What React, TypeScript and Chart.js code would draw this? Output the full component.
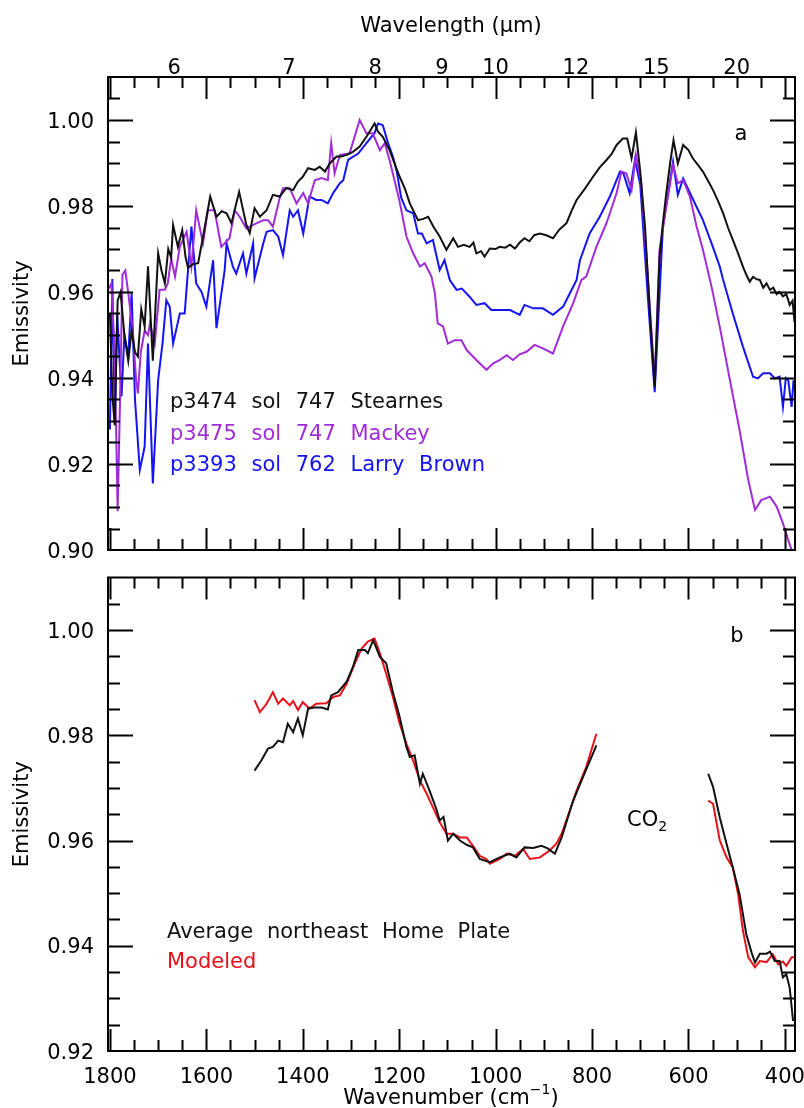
import React, { useEffect, useRef } from 'react';
import { Chart, registerables } from 'chart.js';

Chart.register(...registerables);

// ---------------- data: panel a (wavenumber cm^-1, emissivity) ----------------
const stearnesWn = [
  1800, 1795, 1790, 1784, 1778, 1770, 1762, 1755, 1748, 1742,
  1735, 1728, 1721, 1711, 1700, 1693, 1686, 1679, 1673, 1669,
  1659, 1650, 1643, 1638, 1627, 1617, 1605, 1592, 1579, 1568,
  1558, 1548, 1532, 1517, 1510, 1500, 1489, 1475, 1462, 1448,
  1434, 1420, 1410, 1400, 1389, 1375, 1365, 1354, 1344, 1330,
  1320, 1309, 1296, 1282, 1268, 1251, 1244, 1234, 1220, 1210,
  1199, 1188, 1178, 1161, 1150, 1140, 1128, 1116, 1102, 1088,
  1078, 1066, 1054, 1046, 1040, 1030, 1023, 1012, 1000, 992,
  980, 970, 960, 950, 940, 930, 920, 908, 895, 881,
  868, 853, 842, 832, 815, 798, 784, 770, 760, 749,
  736, 727, 718, 709, 700, 690, 680, 670, 660, 653,
  646, 638, 631, 622, 611, 600, 591, 580, 570, 560,
  549, 538, 528, 518, 508, 497, 487, 480, 473, 466,
  459, 452, 445, 438, 431, 424, 417, 411, 404, 397,
  390, 384, 380,
];
const stearnesE = [
  0.955, 0.936, 0.929, 0.958, 0.960, 0.950, 0.944, 0.951, 0.946, 0.945,
  0.956, 0.952, 0.966, 0.944, 0.969, 0.965, 0.962, 0.970, 0.968, 0.9756,
  0.9705, 0.9744, 0.968, 0.9656, 0.9665, 0.9667, 0.974, 0.9822, 0.9775, 0.9788,
  0.9783, 0.976, 0.9833, 0.9756, 0.9737, 0.9795, 0.9775, 0.979, 0.9826, 0.9822,
  0.9842, 0.9837, 0.9857, 0.9868, 0.9888, 0.9884, 0.9891, 0.988, 0.9899, 0.9915,
  0.9915, 0.9919, 0.9926, 0.9938, 0.9961, 0.9992, 0.9973, 0.9961, 0.993, 0.990,
  0.9868, 0.984, 0.9806, 0.9767, 0.977, 0.9775, 0.975, 0.9729, 0.9698, 0.9725,
  0.9705, 0.971, 0.9705, 0.9715, 0.969, 0.9695, 0.9682, 0.9701, 0.970, 0.9705,
  0.9703, 0.971, 0.9701, 0.9715, 0.9725, 0.9718, 0.9732, 0.9736, 0.9732, 0.9725,
  0.9745, 0.976, 0.979, 0.9814, 0.984, 0.9868, 0.989, 0.9907, 0.992, 0.9942,
  0.9957, 0.9957, 0.9911, 0.9971, 0.988, 0.975, 0.955, 0.938, 0.968, 0.976,
  0.983, 0.990, 0.9953, 0.9899, 0.9942, 0.993, 0.9911, 0.9895, 0.988, 0.986,
  0.9837, 0.981, 0.9783, 0.975, 0.9721, 0.969, 0.9659, 0.964, 0.9624, 0.9635,
  0.963, 0.9628, 0.961, 0.962, 0.9605, 0.961, 0.9595, 0.960, 0.959, 0.9595,
  0.957, 0.958, 0.953,
];

const mackeyWn = [
  1804, 1797, 1790, 1784, 1779, 1774, 1768, 1760, 1752, 1746,
  1742, 1736, 1728, 1721, 1717, 1707, 1697, 1686, 1680, 1673,
  1665, 1655, 1641, 1631, 1621, 1607, 1597, 1583, 1569, 1552,
  1541, 1531, 1517, 1503, 1482, 1472, 1462, 1448, 1441, 1427,
  1413, 1399, 1389, 1375, 1361, 1348, 1341, 1334, 1323, 1303,
  1282, 1268, 1255, 1240, 1230, 1220, 1199, 1185, 1171, 1157,
  1147, 1133, 1126, 1120, 1109, 1099, 1085, 1071, 1060, 1040,
  1019, 1005, 991, 977, 964, 950, 936, 919, 902, 881,
  860, 839, 822, 812, 791, 770, 749, 739, 729, 718,
  709, 698, 685, 670, 660, 646, 632, 622, 611, 597,
  583, 570, 552, 535, 514, 494, 476, 462, 449, 431,
  417, 404, 393, 386,
];
const mackeyE = [
  0.9605, 0.962, 0.945, 0.909, 0.935, 0.964, 0.965, 0.958, 0.950, 0.940,
  0.9364, 0.946, 0.951, 0.950, 0.9527, 0.948, 0.9605, 0.9605, 0.962, 0.9678,
  0.9636, 0.9705, 0.974, 0.9659, 0.979, 0.9713, 0.979, 0.979, 0.9705, 0.9725,
  0.979, 0.9775, 0.9748, 0.9756, 0.9767, 0.9767, 0.9752, 0.9818, 0.9841, 0.9841,
  0.9806, 0.983, 0.9806, 0.986, 0.9865, 0.986, 0.9946, 0.9876, 0.9919, 0.9922,
  1.000, 0.9969, 0.9969, 0.993, 0.9946, 0.9907, 0.981, 0.9729, 0.969, 0.9659,
  0.9667, 0.9636, 0.9597, 0.9527, 0.952, 0.948, 0.9488, 0.9488, 0.9465, 0.9442,
  0.9419, 0.9434, 0.9442, 0.9453, 0.9442, 0.9455, 0.9461, 0.9477, 0.9469, 0.9457,
  0.952, 0.9574, 0.9628, 0.9636, 0.9705, 0.976, 0.983, 0.988, 0.9876, 0.9837,
  0.9919, 0.9853, 0.965, 0.9395, 0.9698, 0.9798, 0.9895, 0.9853, 0.986, 0.9822,
  0.9752, 0.9698, 0.9612, 0.9519, 0.9395, 0.9279, 0.9163, 0.9093, 0.9116, 0.9124,
  0.9101, 0.9062, 0.9023, 0.900,
];

const larryWn = [
  1800, 1795, 1790, 1785, 1776, 1770, 1762, 1755, 1748, 1738,
  1728, 1721, 1711, 1700, 1691, 1683, 1676, 1669, 1655, 1645,
  1638, 1631, 1621, 1610, 1600, 1586, 1579, 1562, 1558, 1545,
  1538, 1524, 1517, 1503, 1500, 1482, 1475, 1462, 1451, 1441,
  1427, 1420, 1410, 1399, 1386, 1372, 1361, 1348, 1337, 1323,
  1316, 1306, 1285, 1268, 1251, 1244, 1234, 1223, 1213, 1205,
  1196, 1185, 1171, 1161, 1153, 1143, 1130, 1116, 1106, 1095,
  1081, 1070, 1054, 1040, 1023, 1009, 991, 970, 950, 940,
  922, 902, 881, 860, 846, 832, 825, 805, 784, 763,
  742, 735, 722, 711, 700, 685, 670, 653, 632, 622,
  611, 590, 570, 552, 535, 528, 508, 487, 466, 456,
  445, 431, 421, 411, 404, 398, 393, 386, 382,
];
const larryE = [
  0.928, 0.963, 0.930, 0.955, 0.9357, 0.950, 0.945, 0.9597, 0.935, 0.9186,
  0.924, 0.948, 0.9155, 0.9395, 0.948, 0.9581, 0.9566, 0.948, 0.955, 0.955,
  0.9651, 0.9752, 0.962, 0.960, 0.9566, 0.9674, 0.9516, 0.9651, 0.9713, 0.9659,
  0.9643, 0.969, 0.9643, 0.9713, 0.9632, 0.9713, 0.974, 0.9744, 0.9729, 0.9686,
  0.979, 0.9775, 0.979, 0.9736, 0.9822, 0.9814, 0.9814, 0.9806, 0.983, 0.9853,
  0.986, 0.9907, 0.9922, 0.9946, 0.997, 0.9992, 0.9988, 0.9946, 0.9915, 0.988,
  0.982, 0.979, 0.9783, 0.9736, 0.9736, 0.9713, 0.9721, 0.9651, 0.9674, 0.9628,
  0.9605, 0.9608, 0.9589, 0.957, 0.9574, 0.9558, 0.9558, 0.9558, 0.9547, 0.957,
  0.9562, 0.9562, 0.9547, 0.9566, 0.9597, 0.9628, 0.9674, 0.9736, 0.9775, 0.9822,
  0.988, 0.9876, 0.983, 0.9907, 0.985, 0.960, 0.9367, 0.9752, 0.9903, 0.9826,
  0.9864, 0.9814, 0.9767, 0.9713, 0.9659, 0.9628, 0.955, 0.9473, 0.9403, 0.9399,
  0.9411, 0.9411, 0.9399, 0.9403, 0.9333, 0.940, 0.9395, 0.9333, 0.9395,
];

// ---------------- data: panel b ----------------
const avgWn1 = [
  1500, 1486, 1472, 1462, 1451, 1441, 1431, 1420, 1410, 1400,
  1389, 1375, 1361, 1348, 1341, 1327, 1309, 1296, 1285, 1271,
  1265, 1254, 1240, 1227, 1213, 1199, 1185, 1178, 1168, 1157,
  1151, 1137, 1123, 1116, 1108, 1099, 1088, 1074, 1060, 1047,
  1033, 1012, 991, 971, 957, 940, 922, 905, 892, 877,
  863, 839, 819, 801, 791,
];
const avgE1 = [
  0.9733, 0.9752, 0.9775, 0.9778, 0.979, 0.9787, 0.9822, 0.9806, 0.9832, 0.980,
  0.9851, 0.9853, 0.9853, 0.9849, 0.9876, 0.9882, 0.9902, 0.993, 0.9962, 0.9962,
  0.9956, 0.9981, 0.9949, 0.9937, 0.9882, 0.9835, 0.9778, 0.9759, 0.9762, 0.9708,
  0.9727, 0.9695, 0.966, 0.9638, 0.9645, 0.960, 0.9613, 0.960, 0.9592, 0.9587,
  0.9565, 0.9559, 0.9568, 0.9575, 0.9568, 0.9587, 0.9586, 0.959, 0.9585, 0.9575,
  0.9606, 0.9676, 0.972, 0.9759, 0.9781,
];
const avgWn2 = [559, 549, 535, 521, 508, 494, 480, 469, 462, 452, 438, 431, 421, 411, 404, 397, 390, 383];
const avgE2 = [
  0.9727, 0.9702, 0.9644, 0.9594, 0.9549, 0.9498, 0.9422, 0.9387, 0.9368, 0.9385,
  0.9385, 0.9389, 0.9371, 0.9371, 0.934, 0.9346, 0.932, 0.9257,
];

const modWn1 = [
  1500, 1489, 1475, 1462, 1451, 1441, 1427, 1420, 1410, 1400,
  1386, 1372, 1351, 1337, 1323, 1309, 1292, 1278, 1265, 1251,
  1240, 1227, 1213, 1199, 1185, 1171, 1157, 1143, 1130, 1116,
  1102, 1088, 1074, 1060, 1047, 1033, 1019, 1012, 991, 977,
  960, 943, 929, 908, 888, 874, 863, 832, 812, 791,
];
const modE1 = [
  0.9867, 0.9844, 0.986, 0.9882, 0.986, 0.987, 0.9857, 0.9865, 0.9848, 0.9863,
  0.9851, 0.986, 0.9861, 0.9873, 0.9876, 0.9898, 0.9937, 0.9965, 0.9978, 0.9984,
  0.9956, 0.9917, 0.9873, 0.9822, 0.9784, 0.9752, 0.9714, 0.9689, 0.9663, 0.9635,
  0.9613, 0.9613, 0.9606, 0.9606, 0.959, 0.9571, 0.9565, 0.9556, 0.9565, 0.9575,
  0.9571, 0.9584, 0.9565, 0.9568, 0.9581, 0.9594, 0.9613, 0.9695, 0.974, 0.9803,
];
const modWn2 = [559, 549, 535, 521, 508, 497, 487, 476, 462, 452, 438, 425, 414, 404, 397, 386, 379];
const modE2 = [
  0.9676, 0.967, 0.960, 0.9568, 0.9549, 0.9498, 0.9429, 0.9378, 0.9359, 0.9371,
  0.9369, 0.9384, 0.9365, 0.937, 0.9362, 0.9378, 0.9378,
];

// ---------------- axes / labels ----------------
const X_MIN = 379;
const X_MAX = 1804;
const X_LABEL_TICKS = [1800, 1600, 1400, 1200, 1000, 800, 600, 400];
const WAVELENGTH_TICKS = [6, 7, 8, 9, 10, 12, 15, 20];
const TOP_Y_TICKS = [0.9, 0.92, 0.94, 0.96, 0.98, 1.0];
const BOTTOM_Y_TICKS = [0.92, 0.94, 0.96, 0.98, 1.0];

const FONT = '"DejaVu Sans", sans-serif';
const BLACK = '#111111';
const PURPLE = '#A02CD8';
const BLUE = '#1414F0';
const RED = '#E81018';

type Seg = { t: string; size?: number; dy?: number };
type Label = {
  segs: Seg[];
  x: number;
  y: number;
  color?: string;
  align?: 'left' | 'center' | 'right';
  rotate?: boolean;
  ws?: number;
};

function pairs(xs: number[], ys: number[]) {
  return xs.map((x, i) => ({ x, y: ys[i] }));
}

function drawLabel(ctx: CanvasRenderingContext2D, lab: Label, base: number) {
  ctx.save();
  ctx.fillStyle = lab.color || '#000';
  ctx.textBaseline = 'alphabetic';
  ctx.textAlign = 'left';
  (ctx as any).wordSpacing = `${lab.ws ?? 0}px`;
  let total = 0;
  for (const s of lab.segs) {
    ctx.font = `${s.size ?? base}px ${FONT}`;
    total += ctx.measureText(s.t).width;
  }
  ctx.translate(lab.x, lab.y);
  if (lab.rotate) ctx.rotate(-Math.PI / 2);
  let x0 = lab.align === 'center' ? -total / 2 : lab.align === 'right' ? -total : 0;
  for (const s of lab.segs) {
    ctx.font = `${s.size ?? base}px ${FONT}`;
    ctx.fillText(s.t, x0, s.dy ?? 0);
    x0 += ctx.measureText(s.t).width;
  }
  ctx.restore();
}

type PanelOpts = {
  offsetY: number;
  yMin: number;
  yMax: number;
  yTicks: number[];
  bottomLabels: boolean;
  topWavelength: boolean;
  labels: Label[];
};

function makeAxesPlugin(o: PanelOpts) {
  return {
    id: 'idlAxes',
    afterDraw(chart: any) {
      const ctx: CanvasRenderingContext2D = chart.ctx;
      const a = chart.chartArea;
      const xs = chart.scales.x;
      const ys = chart.scales.y;
      ctx.save();
      ctx.strokeStyle = '#000';
      ctx.lineWidth = 2;
      ctx.strokeRect(a.left, a.top, a.right - a.left, a.bottom - a.top);
      ctx.beginPath();
      for (let v = 400; v <= 1800; v += 50) {
        const px = Math.round(xs.getPixelForValue(v)) + 0.5;
        const len = v % 200 === 0 ? 22 : 11;
        ctx.moveTo(px, a.bottom);
        ctx.lineTo(px, a.bottom - len);
        ctx.moveTo(px, a.top);
        ctx.lineTo(px, a.top + len);
      }
      const steps = Math.round((o.yMax - o.yMin) / 0.005);
      for (let i = 1; i < steps; i++) {
        const v = o.yMin + i * 0.005;
        const py = Math.round(ys.getPixelForValue(v)) + 0.5;
        const major = Math.abs(v * 50 - Math.round(v * 50)) < 1e-6;
        const len = major ? 25 : 12;
        ctx.moveTo(a.left, py);
        ctx.lineTo(a.left + len, py);
        ctx.moveTo(a.right, py);
        ctx.lineTo(a.right - len, py);
      }
      ctx.stroke();

      // y tick labels
      for (const v of o.yTicks) {
        drawLabel(ctx, { segs: [{ t: v.toFixed(2) }], x: a.left - 14, y: ys.getPixelForValue(v) + 7.5, align: 'right' }, 21);
      }
      if (o.bottomLabels) {
        for (const v of X_LABEL_TICKS) {
          drawLabel(ctx, { segs: [{ t: String(v) }], x: xs.getPixelForValue(v), y: a.bottom + 32, align: 'center' }, 21);
        }
      }
      if (o.topWavelength) {
        for (const w of WAVELENGTH_TICKS) {
          drawLabel(ctx, { segs: [{ t: String(w) }], x: xs.getPixelForValue(10000 / w), y: a.top - 3, align: 'center' }, 21);
        }
      }
      // y axis title
      drawLabel(ctx, { segs: [{ t: 'Emissivity' }], x: 28, y: (a.top + a.bottom) / 2, align: 'center', rotate: true }, 21);
      for (const lab of o.labels) {
        drawLabel(ctx, { ...lab, y: lab.y - o.offsetY }, 21);
      }
      ctx.restore();
    },
  };
}

const TOP_H = 562;
const BOTTOM_H = 1108 - TOP_H;

function Panel(props: {
  top: number;
  height: number;
  padding: { left: number; right: number; top: number; bottom: number };
  datasets: any[];
  opts: PanelOpts;
}) {
  const ref = useRef<HTMLCanvasElement | null>(null);
  useEffect(() => {
    if (!ref.current) return;
    const chart = new Chart(ref.current, {
      type: 'line',
      data: { datasets: props.datasets },
      options: {
        responsive: false,
        maintainAspectRatio: false,
        animation: false,
        layout: { padding: props.padding },
        plugins: { legend: { display: false }, tooltip: { enabled: false } },
        elements: { point: { radius: 0 }, line: { tension: 0 } },
        scales: {
          x: { type: 'linear', min: X_MIN, max: X_MAX, reverse: true, display: false },
          y: { type: 'linear', min: props.opts.yMin, max: props.opts.yMax, display: false },
        },
      } as any,
      plugins: [makeAxesPlugin(props.opts) as any],
    });
    return () => chart.destroy();
  }, []);
  return (
    <canvas
      ref={ref}
      width={804}
      height={props.height}
      style={{ position: 'absolute', left: 0, top: props.top, width: 804, height: props.height }}
    />
  );
}

function line(data: { x: number; y: number }[], color: string) {
  return { data, borderColor: color, borderWidth: 2, pointRadius: 0, fill: false, tension: 0 };
}

export default function App() {
  const topDatasets = [
    line(pairs(stearnesWn, stearnesE), BLACK),
    line(pairs(mackeyWn, mackeyE), PURPLE),
    line(pairs(larryWn, larryE), BLUE),
  ];
  const bottomDatasets = [
    line(pairs(avgWn1, avgE1), BLACK),
    line(pairs(avgWn2, avgE2), BLACK),
    line(pairs(modWn1, modE1), RED),
    line(pairs(modWn2, modE2), RED),
  ];
  const topOpts: PanelOpts = {
    offsetY: 0,
    yMin: 0.9,
    yMax: 1.01,
    yTicks: TOP_Y_TICKS,
    bottomLabels: false,
    topWavelength: true,
    labels: [
      { segs: [{ t: 'Wavelength (' }, { t: 'μ' }, { t: 'm)' }], x: 451, y: 32, align: 'center' },
      { segs: [{ t: 'a' }], x: 741, y: 140, align: 'center' },
      { segs: [{ t: 'p3474 sol 747 Stearnes' }], x: 170, y: 408, color: BLACK, ws: 8 },
      { segs: [{ t: 'p3475 sol 747 Mackey' }], x: 170, y: 440, color: PURPLE, ws: 8 },
      { segs: [{ t: 'p3393 sol 762 Larry Brown' }], x: 170, y: 471, color: BLUE, ws: 8 },
    ],
  };
  const bottomOpts: PanelOpts = {
    offsetY: TOP_H,
    yMin: 0.92,
    yMax: 1.01,
    yTicks: BOTTOM_Y_TICKS,
    bottomLabels: true,
    topWavelength: false,
    labels: [
      { segs: [{ t: 'b' }], x: 737, y: 642, align: 'center' },
      { segs: [{ t: 'CO' }, { t: '2', size: 14, dy: 5 }], x: 627, y: 826 },
      { segs: [{ t: 'Average northeast Home Plate' }], x: 167, y: 938, color: BLACK, ws: 7 },
      { segs: [{ t: 'Modeled' }], x: 167, y: 968, color: RED },
      {
        segs: [{ t: 'Wavenumber (cm' }, { t: '−1', size: 14, dy: -10 }, { t: ')' }],
        x: 451,
        y: 1104,
        align: 'center',
      },
    ],
  };
  return (
    <div style={{ position: 'absolute', left: 0, top: 0, width: 804, height: 1108, background: '#fff' }}>
      <Panel
        top={0}
        height={TOP_H}
        padding={{ left: 108, right: 9, top: 77, bottom: 12 }}
        datasets={topDatasets}
        opts={topOpts}
      />
      <Panel
        top={TOP_H}
        height={BOTTOM_H}
        padding={{ left: 108, right: 9, top: 15.5, bottom: 57 }}
        datasets={bottomDatasets}
        opts={bottomOpts}
      />
    </div>
  );
}
